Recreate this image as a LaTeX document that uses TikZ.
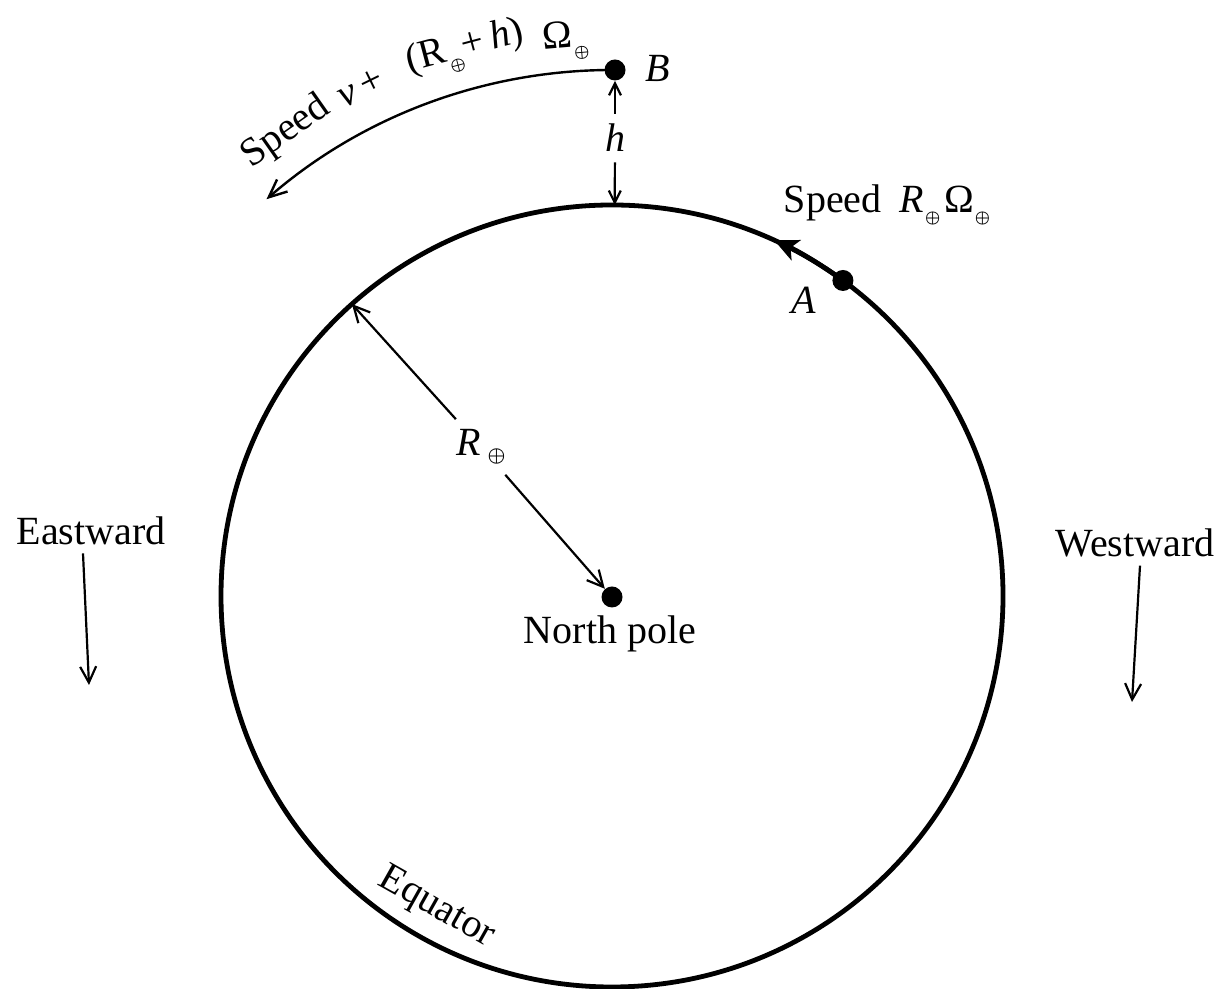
\documentclass[tikz,border=0pt]{standalone}
\usepackage{fontspec}
\setmainfont{Liberation Serif}
\usetikzlibrary{arrows.meta}
\newcommand{\esub}{\hspace{0.5pt}\raisebox{-5pt}{\fontsize{8}{8}\selectfont\boldmath$\oplus$}\hspace{0.5pt}}
\newcommand{\esubbig}{\raisebox{-3pt}{\fontsize{10}{10}\selectfont\boldmath$\oplus$}}
\begin{document}
\begin{tikzpicture}[x=0.5pt,y=0.5pt,
  lbl/.style={font=\fontsize{20}{24}\selectfont, inner sep=1pt},
  thinln/.style={line width=1.1pt},
  barb/.style={-{Straight Barb[length=8pt,width=8pt]}},
  hbarb/.style={-{Straight Barb[length=6pt,width=6pt]}},
  dot/.style={circle, fill=black, inner sep=0pt, minimum size=10.5pt},
]
\useasboundingbox (0,0) rectangle (1219,989);
\coordinate (C) at (612,393);
% Earth
\draw[line width=2.4pt] (C) circle[radius=391];
% North pole
\node[dot] (pole) at (612,392) {};
\node[lbl] (np) at (610,355) {North pole};
% radius
\path (C) ++(131.7:391) coordinate (rim);
\node[lbl, inner sep=5pt] (Rl) at (481,542) {\textit{R}\,\esubbig};
\draw[thinln,barb] (Rl) -- (rim);
\draw[thinln,barb] (Rl) -- (pole);
% point B and height h
\node[dot] (B) at (615,919) {};
\node[lbl, anchor=west] (Bl) at (643,921) {\textit{B}};
\path (C) ++(89.6:391) coordinate (top);
\node[lbl, inner sep=5pt] (hl) at (615,851) {\textit{h}};
\draw[thinln,hbarb] (hl) -- (B);
\draw[thinln,hbarb] (hl) -- (top);
% speed arc at B
\draw[line width=1.2pt, -{Straight Barb[length=9pt,width=8pt]}] (B.center) arc[start angle=89.7, end angle=131, radius=527];
\node[lbl, rotate=35.1] (s1) at ([shift={(125.1:567)}]C) {Speed};
\node[lbl, rotate=26.1] (s2) at ([shift={(116.3:567)}]C) {\textit{v}\,+};
\node[lbl, rotate=14.9] (s3) at ([shift={(105.0:566)}]C) {(R\esub+\,\textit{h})};
\node[lbl, rotate=4.8] (s4) at ([shift={(94.8:557)}]C) {Ω\esub};
% point A
\path (C) ++(53.8:391) node[dot] (A) {};
\node[lbl] (Al) at (804,689) {\textit{A}};
\draw[line width=2.4pt, -{Stealth[length=12pt,width=11pt,inset=3pt]}] (A.center) arc[start angle=53.8, end angle=65.5, radius=391];
\node[lbl] (sA) at (887,784) {Speed\hspace{9pt}\textit{R}\esub\hspace{1.5pt}Ω\esub};
% Eastward / Westward
\node[lbl] (E) at (91,458) {Eastward};
\coordinate (Eend) at (89,304);
\draw[thinln,barb] ([xshift=-4pt,yshift=-3pt]E.south) -- (Eend);
\node[lbl] (W) at (1135,446) {Westward};
\coordinate (Wend) at (1132,287);
\draw[thinln,barb] ([xshift=2.5pt,yshift=-3pt]W.south) -- (Wend);
% Equator
\node[lbl, rotate=-29.4] (eq) at ([shift={(240.6:358)}]C) {Equator};
\end{tikzpicture}
\end{document}
